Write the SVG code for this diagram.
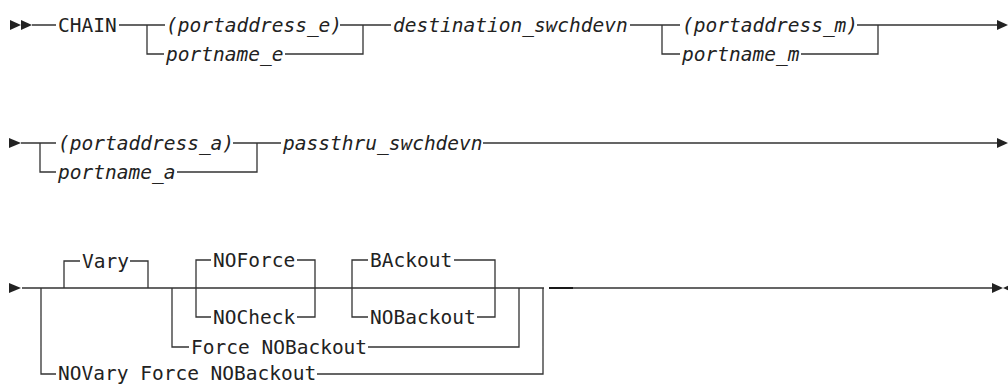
<svg xmlns="http://www.w3.org/2000/svg" width="1008" height="385" viewBox="0 0 1008 385">
<style>
.t{font-family:"DejaVu Sans Mono","Liberation Mono",monospace;font-size:19.5px;fill:#222}
.i{font-style:italic}
.c{stroke:#333;stroke-width:1.3;fill:none}
.a{fill:#222}
</style>
<rect width="1008" height="385" fill="#fff"/>
<g id="connectors">
<!-- row 1 -->
<path class="c" d="M32,25H56M119,25H165M147,25V54H164M340,25H391M285,54H363V25M630,25H680M662,25V54H680M857,25H998M801,54H878V25"/>
<!-- row 2 -->
<path class="c" d="M21,143H56M40,143V172H56M233,143H281M177,172H257V143M483,143H998"/>
<!-- row 3 -->
<path class="c" d="M22,288H544M549,288H992M41,288V374H56M317,374H543V288M64,288V261H80M130,261H148V288M172,288V347H189M368,347H519V288M211,260H196V317H211M297,260H315V317H297M368,260H352V317H368M454,260H495V317H477"/>
<path d="M549,288H573" stroke="#111" stroke-width="1.8"/>
<polygon class="a" points="10,20 21,25 10,30"/>
<polygon class="a" points="21,20 32,25 21,30"/>
<polygon class="a" points="997,20 1008,25 997,30"/>
<polygon class="a" points="9,138 21,143 9,148"/>
<polygon class="a" points="997,138 1008,143 997,148"/>
<polygon class="a" points="9,283 21,288 9,293"/>
<polygon class="a" points="992,283 1003,288 992,293"/>
<polygon class="a" points="1014,283 1003,288 1014,293"/>
</g>
<g id="n-chain"><text class="t" x="58" y="32">CHAIN</text></g>
<g id="n-portaddress-e"><text class="t i" x="166" y="32">(portaddress_e)</text></g>
<g id="n-portname-e"><text class="t i" x="166" y="61">portname_e</text></g>
<g id="n-destination"><text class="t i" x="393" y="32">destination_swchdevn</text></g>
<g id="n-portaddress-m"><text class="t i" x="682" y="32">(portaddress_m)</text></g>
<g id="n-portname-m"><text class="t i" x="682" y="61">portname_m</text></g>
<g id="n-portaddress-a"><text class="t i" x="58" y="150">(portaddress_a)</text></g>
<g id="n-portname-a"><text class="t i" x="58" y="179">portname_a</text></g>
<g id="n-passthru"><text class="t i" x="283" y="150">passthru_swchdevn</text></g>
<g id="n-vary"><text class="t" x="82" y="268">Vary</text></g>
<g id="n-noforce"><text class="t" x="213" y="267">NOForce</text></g>
<g id="n-nocheck"><text class="t" x="213" y="324">NOCheck</text></g>
<g id="n-force-nobackout"><text class="t" x="191" y="354">Force NOBackout</text></g>
<g id="n-backout"><text class="t" x="370" y="267">BAckout</text></g>
<g id="n-nobackout"><text class="t" x="370" y="324">NOBackout</text></g>
<g id="n-novary"><text class="t" x="58" y="380">NOVary Force NOBackout</text></g>
</svg>
